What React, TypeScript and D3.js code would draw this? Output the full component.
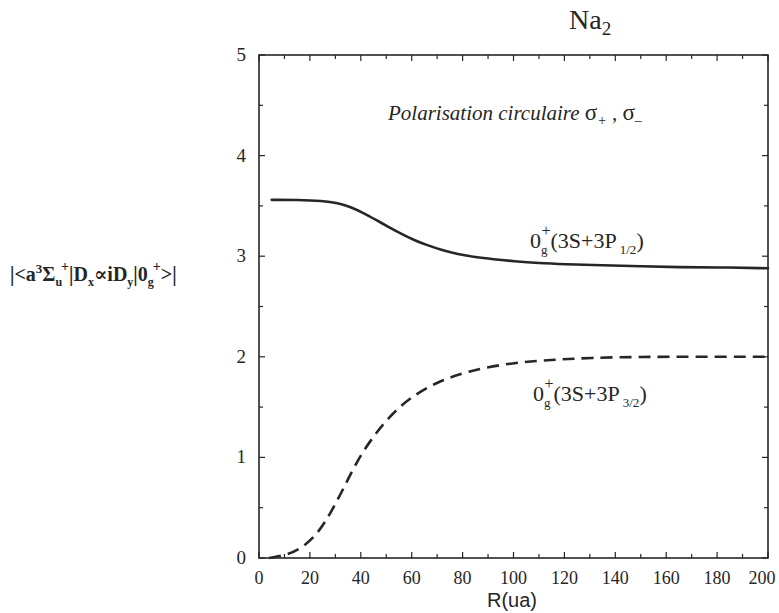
import React from "react";
import * as d3 from "d3";

const width = 779;
const height = 613;
const margin = { left: 259, right: 11, top: 55, bottom: 55 };

// solid curve: 0g+(3S+3P1/2)
const solidR = [5, 15, 25, 31, 36, 41, 46, 51, 56, 61, 66, 72, 78, 85, 92, 100, 110, 120, 135, 150, 165, 180, 200];
const solidV = [3.56, 3.56, 3.55, 3.53, 3.49, 3.43, 3.36, 3.29, 3.22, 3.16, 3.11, 3.06, 3.02, 2.99, 2.97, 2.95, 2.93, 2.92, 2.91, 2.9, 2.89, 2.89, 2.88];

// dashed curve: 0g+(3S+3P3/2)
const dashR = [4, 11, 17, 23, 28, 33, 38, 44, 51, 59, 70, 82, 99, 115, 130, 150, 170, 200];
const dashV = [0.0, 0.03, 0.1, 0.24, 0.44, 0.68, 0.94, 1.18, 1.4, 1.59, 1.75, 1.86, 1.94, 1.97, 1.99, 2.0, 2.0, 2.0];

const xTicks = [0, 20, 40, 60, 80, 100, 120, 140, 160, 180, 200];
const yTicks = [0, 1, 2, 3, 4, 5];

const serif = "'Liberation Serif', 'Times New Roman', 'DejaVu Serif', serif";
const ink = "#262626";

const App = () => {
  const x = d3.scaleLinear([0, 200], [margin.left, width - margin.right]);
  const y = d3.scaleLinear([0, 5], [height - margin.bottom, margin.top]);

  const line = d3
    .line<[number, number]>()
    .x((d) => x(d[0]))
    .y((d) => y(d[1]))
    .curve(d3.curveBasis);

  const solid = solidR.map((r, i) => [r, solidV[i]] as [number, number]);
  const dashed = dashR.map((r, i) => [r, dashV[i]] as [number, number]);

  const xMinor = d3.range(0, 201, 10);
  const yMinor = d3.range(0, 5.01, 0.5);
  const x0 = x(0), x1 = x(200), y0 = y(0), y1 = y(5);

  return (
    <svg width={width} height={height} style={{ position: "absolute", left: 0, top: 0, background: "#fff" }}>
      {/* frame */}
      <rect x={x0} y={y1} width={x1 - x0} height={y0 - y1} fill="none" stroke={ink} strokeWidth={1.6} />

      {/* x ticks, bottom and top, inward */}
      {xMinor.map((v) => {
        const len = v % 20 === 0 ? 6 : 4;
        return (
          <g key={"xt" + v} stroke={ink} strokeWidth={1.2}>
            <line x1={x(v)} x2={x(v)} y1={y0} y2={y0 - len} />
            <line x1={x(v)} x2={x(v)} y1={y1} y2={y1 + len} />
          </g>
        );
      })}
      {/* y ticks, left and right, inward */}
      {yMinor.map((v) => {
        const len = Number.isInteger(v) ? 6 : 4;
        return (
          <g key={"yt" + v} stroke={ink} strokeWidth={1.2}>
            <line x1={x0} x2={x0 + len} y1={y(v)} y2={y(v)} />
            <line x1={x1} x2={x1 - len} y1={y(v)} y2={y(v)} />
          </g>
        );
      })}

      {/* tick labels */}
      {xTicks.map((v) => (
        <text key={"xl" + v} x={v === 200 ? x(v) - 6 : x(v)} y={584} textAnchor="middle" fontFamily={serif} fontSize={18} fill={ink}>
          {v}
        </text>
      ))}
      {yTicks.map((v) => (
        <text key={"yl" + v} x={246} y={y(v) + 6} textAnchor="end" fontFamily={serif} fontSize={19} fill={ink}>
          {v}
        </text>
      ))}

      {/* curves */}
      <path d={line(solid) ?? ""} fill="none" stroke={ink} strokeWidth={2.6} strokeLinecap="round" />
      <path d={line(dashed) ?? ""} fill="none" stroke={ink} strokeWidth={2.6} strokeDasharray="12,7" />

      {/* title */}
      <text x={569} y={29} fontFamily={serif} fontSize={28} fill={ink}>
        Na<tspan fontSize={19} dy={6}>2</tspan>
      </text>

      {/* annotation */}
      <text x={388} y={120} fontFamily={serif} fontSize={21} fontStyle="italic" fill={ink}>
        Polarisation circulaire <tspan fontStyle="normal" fontSize={23}>σ</tspan>
        <tspan fontSize={14} dy={5}>+</tspan>
        <tspan dy={-5}> , </tspan>
        <tspan fontStyle="normal" fontSize={23}>σ</tspan>
        <tspan fontSize={14} dy={5}>–</tspan>
      </text>

      {/* curve labels */}
      <text x={530} y={248} fontFamily={serif} fontSize={22} fill={ink}>
        0<tspan fontSize={13} dy={6}>g</tspan>
        <tspan fontSize={16} dx={-6} dy={-18}>+</tspan>
        <tspan dy={12}>(3S+3P</tspan>
        <tspan fontSize={13} dx={3} dy={6}>1/2</tspan>
        <tspan dy={-6}>)</tspan>
      </text>
      <text x={533} y={401} fontFamily={serif} fontSize={22} fill={ink}>
        0<tspan fontSize={13} dy={6}>g</tspan>
        <tspan fontSize={16} dx={-6} dy={-18}>+</tspan>
        <tspan dy={12}>(3S+3P</tspan>
        <tspan fontSize={13} dx={3} dy={6}>3/2</tspan>
        <tspan dy={-6}>)</tspan>
      </text>

      {/* y label */}
      <text x={10} y={281} fontFamily={serif} fontSize={20} fontWeight="bold" fill={ink}>
        |&lt;a<tspan fontSize={13} dy={-8}>3</tspan>
        <tspan dy={8}>Σ</tspan>
        <tspan fontSize={12} dy={5}>u</tspan>
        <tspan fontSize={14} dx={-1} dy={-15}>+</tspan>
        <tspan dy={10}>|D</tspan>
        <tspan fontSize={12} dy={5}>x</tspan>
        <tspan dy={-5}>∝iD</tspan>
        <tspan fontSize={12} dy={5}>y</tspan>
        <tspan dy={-5}>|0</tspan>
        <tspan fontSize={12} dy={5}>g</tspan>
        <tspan fontSize={14} dx={-1} dy={-15}>+</tspan>
        <tspan dy={10}>&gt;|</tspan>
      </text>

      {/* x label */}
      <text x={512} y={607} textAnchor="middle" fontFamily="'Liberation Sans', Arial, sans-serif" fontSize={20} fill={ink}>
        R(ua)
      </text>
    </svg>
  );
};

export default App;
